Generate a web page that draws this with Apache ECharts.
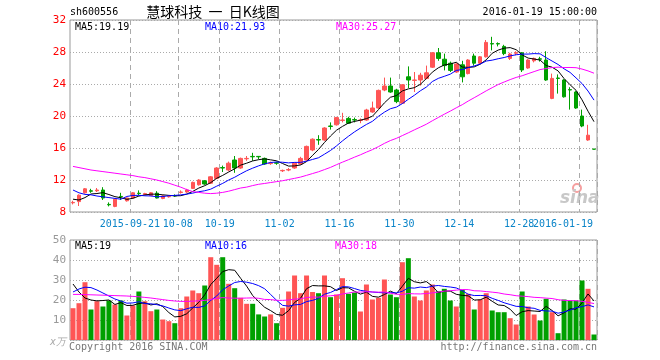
<!DOCTYPE html>
<html><head><meta charset="utf-8">
<script src="https://cdn.jsdelivr.net/npm/echarts@6/dist/echarts.min.js"></script>
<style>html,body{margin:0;padding:0;background:#fff}#c{width:660px;height:360px}</style>
</head><body><div id="c"></div><script>
// ---------- data ----------
const dates = [
 '2015-09-07','2015-09-08','2015-09-09','2015-09-10','2015-09-11','2015-09-14','2015-09-15','2015-09-16','2015-09-17','2015-09-18',
 '2015-09-21','2015-09-22','2015-09-23','2015-09-24','2015-09-25','2015-09-28','2015-09-29','2015-09-30','2015-10-08','2015-10-09',
 '2015-10-12','2015-10-13','2015-10-14','2015-10-15','2015-10-16','2015-10-19','2015-10-20','2015-10-21','2015-10-22','2015-10-23',
 '2015-10-26','2015-10-27','2015-10-28','2015-10-29','2015-10-30','2015-11-02','2015-11-03','2015-11-04','2015-11-05','2015-11-06',
 '2015-11-09','2015-11-10','2015-11-11','2015-11-12','2015-11-13','2015-11-16','2015-11-17','2015-11-18','2015-11-19','2015-11-20',
 '2015-11-23','2015-11-24','2015-11-25','2015-11-26','2015-11-27','2015-11-30','2015-12-01','2015-12-02','2015-12-03','2015-12-04',
 '2015-12-07','2015-12-08','2015-12-09','2015-12-10','2015-12-11','2015-12-14','2015-12-15','2015-12-16','2015-12-17','2015-12-18',
 '2015-12-21','2015-12-22','2015-12-23','2015-12-24','2015-12-25','2015-12-28','2015-12-29','2015-12-30','2015-12-31','2016-01-04',
 '2016-01-05','2016-01-06','2016-01-07','2016-01-08','2016-01-11','2016-01-12','2016-01-18','2016-01-19'];
const open  = [9.15,9.3,10.4,10.65,10.65,10.75,8.95,8.7,9.95,9.4, 9.75,10.35,10.2,10.05,10.35,9.7,9.9,10.05,10.45,10.5,
 10.95,11.4,11.9,11.6,12.2,13.55,13.25,14.5,13.5,14.65, 14.95,14.95,14.7,14.05,14.15,13.15,13.25,13.5,14.0,14.5,
 15.75,17.05,17.0,18.75,18.9,19.45,19.7,19.55,19.45,19.5, 20.5,21.0,23.25,23.75,23.25,21.6,24.9,24.45,24.5,24.7,
 26.1,27.9,27.1,26.6,25.5,26.4,25.3,27.5,26.6,27.4, 29.05,29.05,28.7,27.2,27.85,27.9,26.0,26.9,27.15,27.0,
 22.2,24.75,24.5,23.3,23.0,20.0,17.0,15.85];
const close = [9.2,10.1,10.9,10.6,10.75,9.75,8.9,9.6,9.9,9.75, 10.4,10.3,10.3,10.4,9.75,10.0,9.95,10.0,10.5,10.75,
 11.7,12.0,11.5,12.4,13.5,13.5,14.1,13.5,14.7,14.7, 14.9,14.9,14.0,14.1,14.1,13.2,13.3,14.1,14.7,16.2,
 17.1,17.0,18.5,18.7,19.8,19.5,19.1,19.5,19.5,20.75, 21.0,23.2,23.75,23.0,21.8,23.9,24.5,24.5,25.1,25.4,
 27.9,27.2,26.3,25.7,26.5,24.9,27.0,26.6,27.4,29.2, 29.0,29.0,27.8,27.75,27.9,25.75,27.0,27.2,27.1,24.5,
 24.7,24.7,22.4,23.25,21.0,18.75,17.6,15.85];
const high  = [9.4,10.2,11.0,10.9,11.0,11.1,9.2,9.7,10.4,9.8, 10.5,10.7,10.4,10.5,10.6,10.1,10.05,10.2,10.7,10.9,
 11.8,12.1,12.0,12.5,13.6,13.8,14.3,15.0,14.8,15.0, 15.4,15.0,14.8,14.3,14.3,13.3,13.5,14.2,14.9,16.3,
 17.2,17.6,18.6,19.2,19.9,20.4,19.9,19.8,19.7,20.9, 21.8,23.3,24.8,24.8,23.4,24.0,26.2,25.5,25.4,26.3,
 28.0,28.5,27.8,26.8,26.6,26.9,27.1,27.8,27.5,29.5, 29.9,29.2,28.9,27.9,28.1,28.0,27.1,27.3,27.4,28.1,
 25.3,25.2,24.6,23.6,23.1,20.8,18.9,15.85];
const low   = [8.95,8.75,10.3,10.4,10.5,9.5,8.7,8.6,9.5,9.3, 9.7,10.1,10.1,10.0,9.7,9.6,9.8,9.9,10.3,10.4,
 10.9,11.3,11.4,11.5,12.1,13.0,13.1,12.9,13.4,14.4, 14.4,14.6,13.9,13.9,13.9,13.0,13.1,13.4,13.9,14.4,
 15.6,16.4,16.9,18.3,18.8,19.2,19.0,19.2,19.1,19.4, 20.4,20.9,23.1,22.9,21.6,21.5,23.5,23.0,23.8,24.6,
 26.0,26.9,25.7,25.5,25.4,24.2,25.2,26.3,26.5,27.3, 28.2,28.7,27.6,27.0,27.6,25.5,25.9,26.7,26.8,24.4,
 22.1,22.8,22.3,20.8,20.9,18.6,16.9,15.85];
const volume = [15.9,18.4,28.9,15.25,19.4,16.75,19.75,17.75,19.75,12.25, 17.25,24.25,19.4,14.4,15.25,10.25,9.4,8.4,15.9,21.75,
 24.75,23.4,27.25,41.4,37.6,41.4,28.1,25.9,21.1,18.1, 18.1,12.8,11.75,12.8,8.4,16.1,24.25,32.25,23.4,32.25,
 24.0,23.4,32.25,21.4,22.75,30.9,23.1,23.75,14.25,27.75, 20.25,21.1,30.25,22.75,21.4,38.9,40.9,21.75,19.75,24.75,
 27.75,24.4,25.6,19.75,16.75,25.1,23.1,15.25,20.25,23.4, 14.75,13.9,13.9,10.9,7.75,24.25,16.75,12.75,9.75,20.6,
 13.9,3.4,20.25,19.75,19.75,29.75,25.6,2.75];
// moving-average values before enough history exists
const ma5Head  = [9.6,9.5,9.8,10.25];
const ma10Head = [10.75,10.4,10.2,10.15,10.0,9.9,9.8,9.7,9.6];
const ma30Head = [13.7,13.55,13.4,13.25,13.15,13.05,12.95,12.85,12.75,12.65,12.55,12.4,12.3,12.15,12.0,11.8,11.6,11.35,11.1,10.8,10.55,10.45,10.35,10.3,10.35,10.45,10.6,10.8,11.0];
const vma5Head  = [28,24,21,20];
const vma10Head = [24,25.5,26.4,26.2,25,23.5,22,20.5,19.5];
const vma30Head = [22.8,22.8,22.7,22.6,22.5,22.4,22.3,22.2,22.1,22.0,21.8,21.6,21.3,21.0,20.6,20.2,19.8,19.5,19.3,19.3,19.4,19.6,19.8,20.3,20.8,21.2,21.0,20.9,20.9];
const priceMaText = ['MA5:19.19','MA10:21.93','MA30:25.27'];
const volMaText   = ['MA5:19','MA10:16','MA30:18'];
const labelIdx = [10,18,25,35,45,55,65,75];
const gridIdx  = [10,18,25,35,45,55,65,75,85];
const priceMin = 8, priceMax = 32, priceStep = 4;
const volMin = 0, volMax = 50, volStep = 10;

// ---------- chart ----------
const UP = '#ff5555', DOWN = '#00a000';
const MONO = '"DejaVu Sans Mono", "Liberation Mono", monospace';
function ma(arr, n, head) {
  return arr.map((v, i) => {
    if (i < n - 1) return head[i];
    let s = 0; for (let k = i - n + 1; k <= i; k++) s += arr[k];
    return +(s / n).toFixed(3);
  });
}
const last = dates.length - 1;
const candle = dates.map((d, i) => [open[i], close[i], low[i], high[i]]);
const isUp = (i) => close[i] > open[i] || (close[i] === open[i] && (i === 0 || close[i] >= close[i - 1]));
const volBars = volume.map((v, i) => ({value: v, itemStyle: {color: isUp(i) ? UP : DOWN}}));
const labelSet = new Set(labelIdx), gridSet = new Set(gridIdx);
const splitX = {show: true, interval: (i) => gridSet.has(i), lineStyle: {color: '#aaa', type: [5, 4], width: 1}};
const labelBase = {color: '#0a84c8', fontFamily: MONO, fontSize: 10, margin: 7};
const chart = echarts.init(document.getElementById('c'), null, {renderer: 'canvas'});
const txt = (x, y, text, fill, extra) => Object.assign({type: 'text', x, y, silent: true,
  style: Object.assign({text, fill, font: '10px ' + MONO, textVerticalAlign: 'middle'}, extra || {})});
chart.setOption({
  animation: false,
  backgroundColor: '#fff',
  grid: [
    {left: 70, top: 20, width: 527, height: 192, show: true, borderColor: '#999', borderWidth: 1, backgroundColor: 'transparent'},
    {left: 70, top: 240, width: 527, height: 100, show: true, borderColor: '#999', borderWidth: 1, backgroundColor: 'transparent'}
  ],
  xAxis: [
    {type: 'category', gridIndex: 0, data: dates, boundaryGap: true,
     axisLine: {show: false}, axisTick: {show: false},
     axisLabel: Object.assign({}, labelBase, {interval: (i) => labelSet.has(i), padding: [0, 6, 0, 0],
       formatter: (v, i) => (i === labelIdx[0]) ? v : v.slice(5)}),
     splitLine: splitX},
    {type: 'category', gridIndex: 1, data: dates, boundaryGap: true,
     axisLine: {show: false}, axisTick: {show: false}, axisLabel: {show: false},
     splitLine: splitX},
    {type: 'category', gridIndex: 0, data: dates, boundaryGap: true, position: 'bottom',
     axisLine: {show: false}, axisTick: {show: false}, splitLine: {show: false},
     axisLabel: Object.assign({}, labelBase, {interval: (i) => i === last, showMaxLabel: true,
       padding: [0, 62, 0, 0]})}
  ],
  yAxis: [
    {type: 'value', gridIndex: 0, min: priceMin, max: priceMax, interval: priceStep,
     axisLine: {show: false}, axisTick: {show: false},
     axisLabel: {color: '#f00', fontFamily: MONO, fontSize: 11, margin: 4},
     splitLine: {show: true, lineStyle: {color: '#aaa', type: [1, 2]}}},
    {type: 'value', gridIndex: 1, min: volMin, max: volMax, interval: volStep,
     axisLine: {show: false}, axisTick: {show: false},
     axisLabel: {color: '#999', fontFamily: MONO, fontSize: 11, margin: 4, formatter: (v) => v === 0 ? '' : String(v)},
     splitLine: {show: true, lineStyle: {color: '#aaa', type: [1, 2]}}}
  ],
  series: [
    {type: 'candlestick', xAxisIndex: 0, yAxisIndex: 0, data: candle, barWidth: 4,
     itemStyle: {color: UP, color0: DOWN, borderColor: UP, borderColor0: DOWN, borderWidth: 1}},
    {type: 'line', xAxisIndex: 0, yAxisIndex: 0, data: ma(close, 5, ma5Head), showSymbol: false, lineStyle: {color: '#000', width: 1}},
    {type: 'line', xAxisIndex: 0, yAxisIndex: 0, data: ma(close, 10, ma10Head), showSymbol: false, lineStyle: {color: '#0000ff', width: 1}},
    {type: 'line', xAxisIndex: 0, yAxisIndex: 0, data: ma(close, 30, ma30Head), showSymbol: false, lineStyle: {color: '#ff00ff', width: 1}},
    {type: 'bar', xAxisIndex: 1, yAxisIndex: 1, data: volBars, barWidth: 5},
    {type: 'line', xAxisIndex: 1, yAxisIndex: 1, data: ma(volume, 5, vma5Head), showSymbol: false, lineStyle: {color: '#000', width: 1}},
    {type: 'line', xAxisIndex: 1, yAxisIndex: 1, data: ma(volume, 10, vma10Head), showSymbol: false, lineStyle: {color: '#0000ff', width: 1}},
    {type: 'line', xAxisIndex: 1, yAxisIndex: 1, data: ma(volume, 30, vma30Head), showSymbol: false, lineStyle: {color: '#ff00ff', width: 1}}
  ],
  graphic: [
    txt(70, 12, 'sh600556', '#000'),
    txt(213, 12, '慧球科技  一  日K线图', '#000', {font: '14px "Noto Sans CJK SC", sans-serif', textAlign: 'center'}),
    txt(597, 12, '2016-01-19 15:00:00', '#000', {textAlign: 'right'}),
    txt(75, 27, priceMaText[0], '#000'),
    txt(205, 27, priceMaText[1], '#0000ff'),
    txt(336, 27, priceMaText[2], '#ff00ff'),
    txt(75, 246, volMaText[0], '#000'),
    txt(205, 246, volMaText[1], '#0000ff'),
    txt(335, 246, volMaText[2], '#ff00ff'),
    txt(50, 342, 'x万', '#aaa', {font: 'italic 10px ' + MONO}),
    txt(69, 347, 'Copyright 2016 SINA.COM', '#777'),
    txt(597, 347, 'http://finance.sina.com.cn', '#777', {textAlign: 'right'}),
    {type: 'circle', shape: {cx: 577, cy: 188, r: 4}, style: {fill: 'none', stroke: '#f6a0a0', lineWidth: 2}, silent: true},
    txt(560, 199, 'sina', '#c8c8c8', {font: 'italic bold 17px "DejaVu Sans", sans-serif'})
  ]
});
</script></body></html>
